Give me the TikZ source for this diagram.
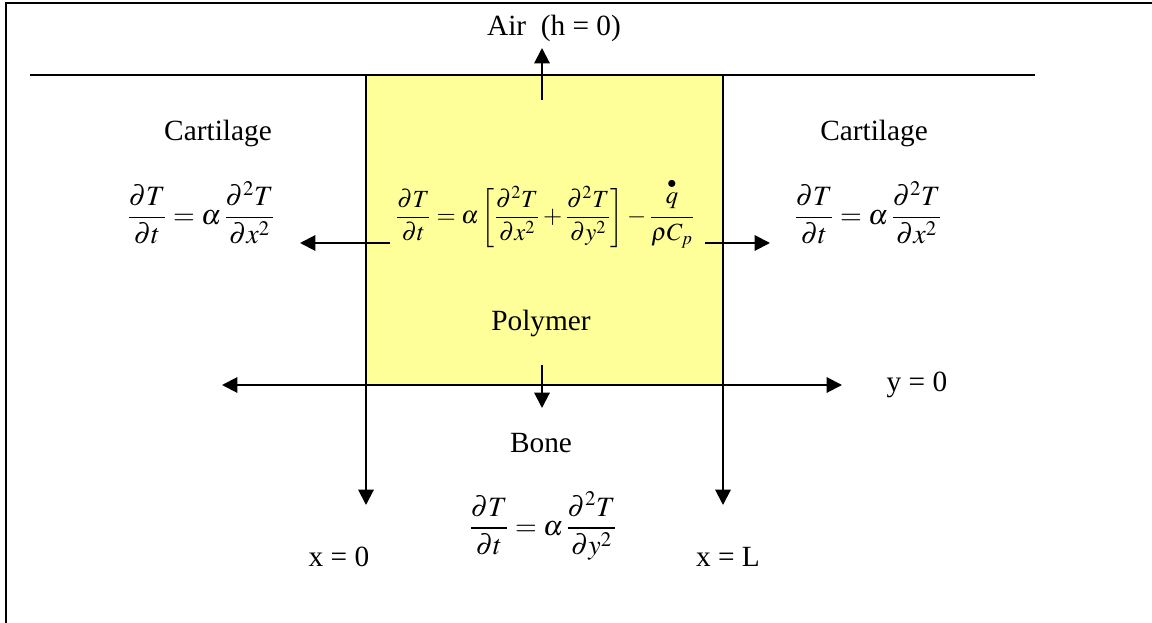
\documentclass[tikz,border=0pt]{standalone}
\usepackage{mathptmx}
\usepackage{fontspec}
\setmainfont{Liberation Serif}
\usetikzlibrary{arrows.meta}
\definecolor{polyyellow}{RGB}{255,255,153}
\tikzset{
  lbl/.style={font=\fontsize{22}{24}\selectfont, inner sep=0pt},
  eqbig/.style={font=\fontsize{21}{24}\selectfont, inner sep=0pt},
  eqsmall/.style={font=\fontsize{18.5}{21}\selectfont, inner sep=0pt},
  arr/.style={line width=1.5pt, -{Triangle[length=11.5pt,width=11.5pt]}},
  plain/.style={line width=1.2pt}
}
\begin{document}
\begin{tikzpicture}[x=0.75pt,y=-0.75pt]
\useasboundingbox (0,0) rectangle (1152,623);
% frame
\draw[plain] (6,623) -- (6,3) -- (1152,3);
% polymer block
\node[draw, line width=1.2pt, fill=polyyellow, minimum width=267.75pt, minimum height=232.5pt, inner sep=0pt] (poly) at (544.5,230) {};
% interface line
\coordinate (ifl) at (30,75);
\coordinate (ifr) at (1035,75);
\draw[plain] (ifl) -- (ifr);
% texts
\node[lbl] (air) at (554,28) {Air\ \ (h = 0)};
\node[lbl] (cartL) at (218,133) {Cartilage};
\node[lbl] (cartR) at (874,133) {Cartilage};
\node[lbl] (polymer) at (541,323) {Polymer};
\node[lbl] (yzero) at (917,385) {y = 0};
\node[lbl] (bone) at (541,443) {Bone};
\node[lbl] (xzero) at (339,557) {x = 0};
\node[lbl] (xL) at (728,557) {x = L};
\node[eqbig] (eqL) at (201,213) {$\displaystyle\frac{\partial T}{\partial t} = \alpha\,\frac{\partial^2 T}{\partial x^2}$};
\node[eqbig] (eqR) at (868,213) {$\displaystyle\frac{\partial T}{\partial t} = \alpha\,\frac{\partial^2 T}{\partial x^2}$};
\node[eqbig] (eqB) at (543,526) {$\displaystyle\frac{\partial T}{\partial t} = \alpha\,\frac{\partial^2 T}{\partial y^2}$};
\node[eqsmall] (eqC) at (545,213) {$\displaystyle\frac{\partial T}{\partial t} = \alpha\left[\frac{\partial^2 T}{\partial x^2}+\frac{\partial^2 T}{\partial y^2}\right]-\frac{\stackrel{\bullet}{q}}{\rho C_p}$};
% arrow coordinates
\coordinate (upS) at (542,100);
\coordinate (upE) at (542,48);
\coordinate (lS) at (390,243);
\coordinate (lE) at (300,243);
\coordinate (rS) at (705,243);
\coordinate (rE) at (770,243);
\coordinate (dS) at (542,365);
\coordinate (dE) at (542,408);
\coordinate (bl) at (366,385);
\coordinate (br) at (723,385);
\coordinate (blE) at (222,385);
\coordinate (brE) at (842,385);
\coordinate (vlE) at (366,505);
\coordinate (vrE) at (723,505);
% arrows
\draw[arr] (upS) -- (upE);
\draw[arr] (lS) -- (lE);
\draw[arr] (rS) -- (rE);
\draw[arr] (dS) -- (dE);
\draw[arr] (bl) -- (blE);
\draw[arr] (br) -- (brE);
\draw[arr] (bl) -- (vlE);
\draw[arr] (br) -- (vrE);
\end{tikzpicture}
\end{document}
